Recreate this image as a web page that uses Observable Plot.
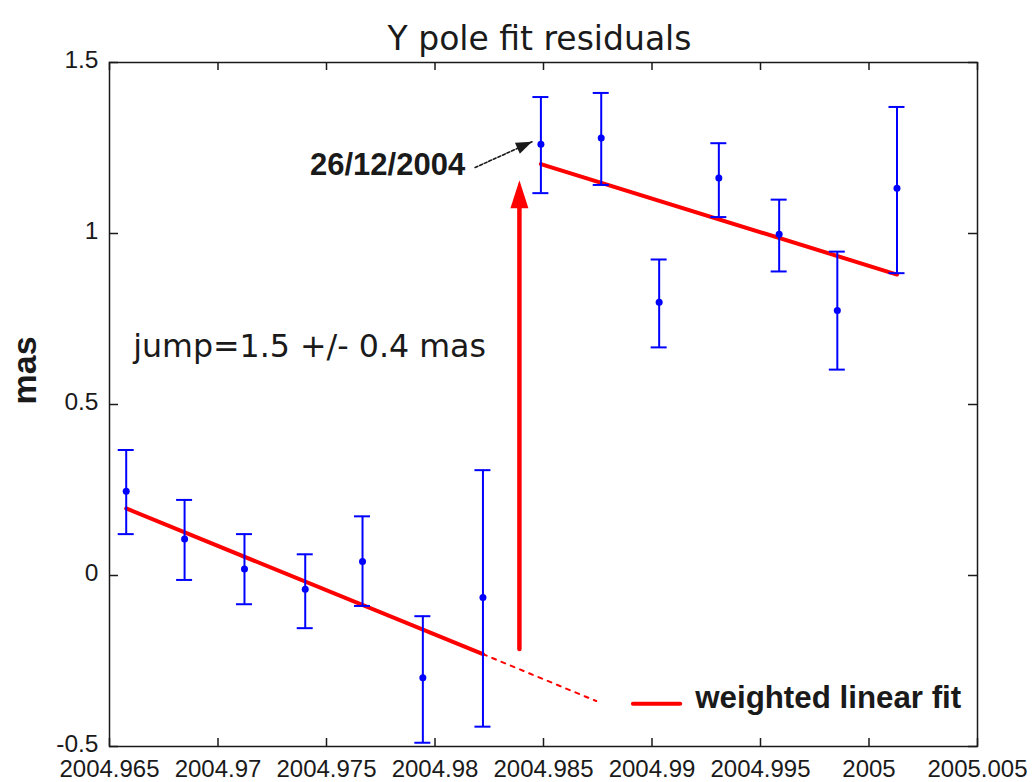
<!DOCTYPE html>
<html>
<head>
<meta charset="utf-8">
<script src="https://cdn.jsdelivr.net/npm/d3@7"></script>
<script src="https://cdn.jsdelivr.net/npm/@observablehq/plot@0.6"></script>
<style>
  html, body { margin: 0; padding: 0; background: #ffffff; overflow: hidden; }
</style>
</head>
<body>
<div id="chart"></div>
<script>
// ---- data ----
const title = "Y pole fit residuals";
const yLabel = "mas";

const epochs    = [2004.96577, 2004.96846, 2004.97122, 2004.97402, 2004.97666, 2004.97944, 2004.98221,
                   2004.98488, 2004.98766, 2004.99033, 2004.99308, 2004.99586, 2004.99854, 2005.00129];
const residuals = [0.246, 0.107, 0.019, -0.040, 0.041, -0.299, -0.064,
                   1.261, 1.279, 0.799, 1.162, 0.998, 0.775, 1.132];
const errLow    = [0.121, -0.013, -0.084, -0.154, -0.089, -0.489, -0.442,
                   1.118, 1.142, 0.667, 1.048, 0.889, 0.602, 0.884];
const errHigh   = [0.367, 0.221, 0.121, 0.062, 0.173, -0.119, 0.308,
                   1.399, 1.411, 0.924, 1.264, 1.099, 0.947, 1.370];

const fitBeforeX = [2004.96577, 2004.98221];
const fitBeforeY = [0.196, -0.230];
const fitExtendX = [2004.98221, 2004.98743];
const fitExtendY = [-0.230, -0.367];
const fitAfterX  = [2004.98488, 2005.00129];
const fitAfterY  = [1.203, 0.880];

const xTicks = [2004.965, 2004.97, 2004.975, 2004.98, 2004.985, 2004.99, 2004.995, 2005, 2005.005];
const xTickLabels = ["2004.965", "2004.97", "2004.975", "2004.98", "2004.985", "2004.99", "2004.995", "2005", "2005.005"];
const yTicks = [-0.5, 0, 0.5, 1, 1.5];
const yTickLabels = ["-0.5", "0", "0.5", "1", "1.5"];

// annotations (data coordinates)
const jumpText = "jump=1.5 +/- 0.4 mas";
const jumpTextAt = [2004.96609, 0.670];
const jumpArrowX = 2004.98389;
const jumpArrowY = [-0.215, 1.075, 1.156]; // tail, head base, tip
const dateText = "26/12/2004";
const dateTextAt = [2004.98139, 1.200];
const dateArrowX = [2004.98185, 2004.98447];
const dateArrowY = [1.193, 1.268];
const legendText = "weighted linear fit";
const legendLineX = [2004.98912, 2004.99130];
const legendLineY = -0.375;
const legendTextAt = [2004.99199, -0.357];

// ---- build tables ----
const points = epochs.map((x, i) => ({x, y: residuals[i], lo: errLow[i], hi: errHigh[i]}));
const pairs = (xs, ys) => xs.map((x, i) => ({x, y: ys[i]}));

const BLUE = "#0000ff", RED = "#ff0000", INK = "#1a1a1a";
const FW = 1034 - 109 - 57, FH = 782 - 62 - 36;

const headSymbol = (len, half) => ({
  draw(ctx) { ctx.moveTo(0, 0); ctx.lineTo(-half, len); ctx.lineTo(half, len); ctx.closePath(); }
});

const chart = Plot.plot({
  width: 1034,
  height: 782,
  marginLeft: 109,
  marginRight: 57,
  marginTop: 62,
  marginBottom: 36,
  style: {fontFamily: "Liberation Sans, Arial, sans-serif", background: "#ffffff", color: INK},
  x: {domain: [2004.965, 2005.005], label: null},
  y: {domain: [-0.5, 1.5], label: null},
  marks: [
    Plot.frame({stroke: INK, strokeWidth: 1.5}),
    // inward ticks on all four sides
    Plot.ruleX(xTicks, {x: d => d, insetTop: FH - 8, stroke: INK, strokeWidth: 1.5}),
    Plot.ruleX(xTicks, {x: d => d, insetBottom: FH - 8, stroke: INK, strokeWidth: 1.5}),
    Plot.ruleY(yTicks, {y: d => d, insetRight: FW - 9, stroke: INK, strokeWidth: 1.5}),
    Plot.ruleY(yTicks, {y: d => d, insetLeft: FW - 9, stroke: INK, strokeWidth: 1.5}),
    Plot.axisX({ticks: xTicks, tickFormat: d => xTickLabels[xTicks.indexOf(d)], tickSize: 0, tickPadding: 13,
                fontSize: 24, label: null, fill: INK}),
    Plot.axisY({ticks: yTicks, tickFormat: d => yTickLabels[yTicks.indexOf(d)], tickSize: 0, tickPadding: 11,
                fontSize: 24.5, dy: -2, label: null, fill: INK}),

    // fit lines
    Plot.line(pairs(fitExtendX, fitExtendY), {x: "x", y: "y", stroke: RED, strokeWidth: 2, strokeDasharray: "4,6"}),
    Plot.line(pairs(fitBeforeX, fitBeforeY), {x: "x", y: "y", stroke: RED, strokeWidth: 4}),
    Plot.line(pairs(fitAfterX, fitAfterY), {x: "x", y: "y", stroke: RED, strokeWidth: 4}),

    // error bars
    Plot.ruleX(points, {x: "x", y1: "lo", y2: "hi", stroke: BLUE, strokeWidth: 2}),
    Plot.ruleY(points, {x1: "x", x2: "x", y: "lo", insetLeft: -8, insetRight: -8, stroke: BLUE, strokeWidth: 2}),
    Plot.ruleY(points, {x1: "x", x2: "x", y: "hi", insetLeft: -8, insetRight: -8, stroke: BLUE, strokeWidth: 2}),
    Plot.dot(points, {x: "x", y: "y", r: 3.5, fill: BLUE, stroke: "none"}),

    // jump arrow
    Plot.line([{x: jumpArrowX, y: jumpArrowY[0]}, {x: jumpArrowX, y: jumpArrowY[1]}],
              {x: "x", y: "y", stroke: RED, strokeWidth: 4.5}),
    Plot.dot([{x: jumpArrowX, y: jumpArrowY[2]}], {x: "x", y: "y", r: 5, symbol: headSymbol(28, 9), fill: RED, stroke: "none"}),

    // date arrow
    Plot.line(pairs(dateArrowX, dateArrowY), {x: "x", y: "y", stroke: INK, strokeWidth: 1.6, strokeDasharray: "3,2"}),
    Plot.dot([{x: dateArrowX[1], y: dateArrowY[1]}], {x: "x", y: "y", r: 5, rotate: 66, symbol: headSymbol(16, 6), fill: INK, stroke: "none"}),

    // texts
    Plot.text([dateText], {x: dateTextAt[0], y: dateTextAt[1], textAnchor: "end", fontSize: 31, fontWeight: "bold", fill: INK}),
    Plot.text([jumpText], {x: jumpTextAt[0], y: jumpTextAt[1], textAnchor: "start", fontSize: 31.7,
                           fontFamily: "DejaVu Sans, sans-serif", fill: INK}),

    // legend
    Plot.line([{x: legendLineX[0], y: legendLineY}, {x: legendLineX[1], y: legendLineY}], {x: "x", y: "y", stroke: RED, strokeWidth: 4}),
    Plot.text([legendText], {x: legendTextAt[0], y: legendTextAt[1], textAnchor: "start", fontSize: 31.3, fontWeight: "bold", fill: INK}),

    // title and y label
    Plot.text([title], {frameAnchor: "top", dy: -36, dx: -4, fontSize: 33, fontFamily: "DejaVu Sans, sans-serif", fill: INK}),
    Plot.text([yLabel], {frameAnchor: "left", dx: -84, rotate: -90, fontSize: 34, fontWeight: "bold", fill: INK})
  ]
});

document.getElementById("chart").appendChild(chart);
</script>
</body>
</html>
